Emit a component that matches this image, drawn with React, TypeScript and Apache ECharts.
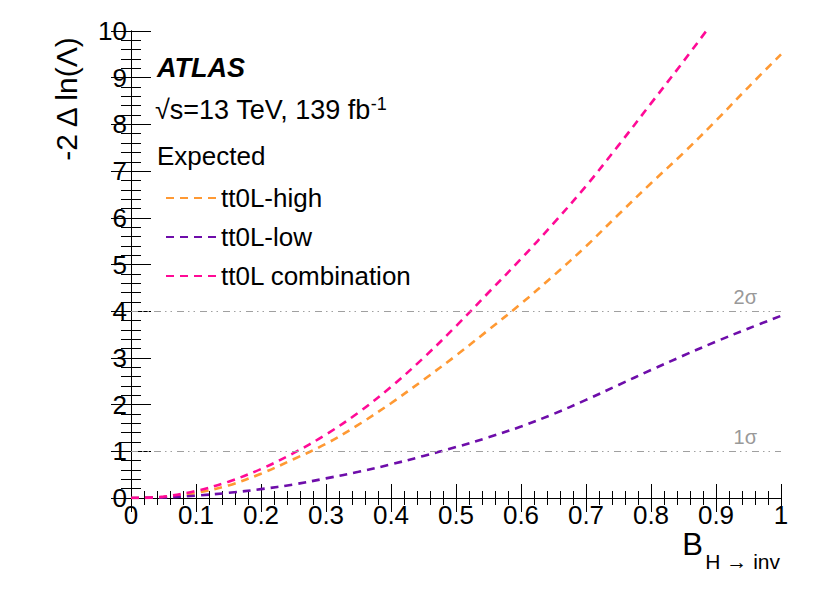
import React, { useEffect, useRef } from "react";
import * as echarts from "echarts";

// x values: B(H -> inv)
const bValues = [0, 0.05, 0.1, 0.15, 0.2, 0.25, 0.3, 0.35, 0.4, 0.45, 0.5, 0.55, 0.6, 0.65, 0.7, 0.75, 0.8, 0.85, 0.9, 0.95, 1.0];
// -2 Δ ln(Λ)
const highValues = [0, 0.02, 0.11, 0.27, 0.52, 0.83, 1.16, 1.57, 2.03, 2.53, 3.05, 3.6, 4.16, 4.76, 5.39, 6.07, 6.74, 7.39, 8.08, 8.8, 9.5];
const lowValues = [0, 0.01, 0.05, 0.11, 0.19, 0.29, 0.42, 0.56, 0.72, 0.9, 1.09, 1.3, 1.53, 1.8, 2.1, 2.42, 2.74, 3.05, 3.35, 3.63, 3.9];
const combBValues = [0, 0.05, 0.1, 0.15, 0.2, 0.25, 0.3, 0.35, 0.4, 0.45, 0.5, 0.55, 0.6, 0.65, 0.7, 0.75, 0.8, 0.85, 0.885];
const combValues = [0, 0.03, 0.15, 0.35, 0.62, 0.96, 1.36, 1.83, 2.38, 3.0, 3.68, 4.4, 5.12, 5.88, 6.68, 7.55, 8.45, 9.35, 10.0];

const seriesNames = ["tt0L-high", "tt0L-low", "tt0L combination"];
const seriesColors = ["#FF9933", "#6E0DAA", "#FF0A96"];
const sigmaLevels = [1, 4];
const sigmaLabels = ["1σ", "2σ"];

const FONT = "'Liberation Sans', Arial, Helvetica, sans-serif";

function pairs(xs: number[], ys: number[]) {
  return xs.map((x, i) => [x, ys[i]]);
}

export default function App() {
  const ref = useRef<HTMLDivElement>(null);

  useEffect(() => {
    document.body.style.margin = "0";
    const chart = echarts.init(ref.current as HTMLDivElement, null, { renderer: "svg" });

    const tickCommon = {
      axisLine: { show: true, lineStyle: { color: "#000", width: 1 } },
      splitLine: { show: false },
      minorSplitLine: { show: false },
    };

    const dataSets = [pairs(bValues, highValues), pairs(bValues, lowValues), pairs(combBValues, combValues)];

    const series: any[] = dataSets.map((d, i) => ({
      name: seriesNames[i],
      type: "line",
      data: d,
      symbol: "none",
      smooth: 0.35,
      clip: true,
      z: 3,
      lineStyle: { color: seriesColors[i], width: 2.6, type: [8, 6] },
      itemStyle: { color: seriesColors[i] },
    }));

    series.push({
      type: "line",
      data: [],
      symbol: "none",
      silent: true,
      markLine: {
        silent: true,
        symbol: "none",
        animation: false,
        lineStyle: { color: "#a0a0a0", width: 1, type: [7, 4, 1.5, 4, 1.5, 5] },
        label: {
          show: true,
          position: "insideEndTop",
          color: "#999",
          fontSize: 20,
          fontFamily: FONT,
          distance: [24, 4],
        },
        data: sigmaLevels.map((v, i) => ({ yAxis: v, label: { formatter: sigmaLabels[i] } })),
      },
    });

    const option: any = {
      animation: false,
      backgroundColor: "#fff",
      grid: { left: 131, right: 41, top: 31, bottom: 95 },
      legend: {
        orient: "vertical",
        left: 165,
        top: 185,
        padding: 0,
        itemWidth: 50,
        itemHeight: 26,
        itemGap: 13,
        selectedMode: false,
        data: seriesNames,
        itemStyle: { opacity: 0, borderWidth: 0 },
        textStyle: { fontSize: 26, color: "#000", fontFamily: FONT },
      },
      xAxis: [
        {
          type: "value",
          min: 0,
          max: 1,
          interval: 0.1,
          position: "bottom",
          ...tickCommon,
          axisTick: { show: true, inside: true, length: 14, lineStyle: { color: "#000" } },
          minorTick: { show: true, splitNumber: 5, length: 7, lineStyle: { color: "#000" } },
          axisLabel: { fontSize: 26, color: "#000", fontFamily: FONT, margin: 4 },
        },
        {
          type: "value",
          min: 0,
          max: 1,
          interval: 0.1,
          position: "top",
          ...tickCommon,
          axisTick: { show: true, inside: true, length: 14, lineStyle: { color: "#000" } },
          minorTick: { show: true, splitNumber: 5, length: 7, lineStyle: { color: "#000" } },
          axisLabel: { show: false },
        },
      ],
      yAxis: [
        {
          type: "value",
          min: 0,
          max: 10,
          interval: 1,
          position: "left",
          ...tickCommon,
          axisTick: { show: true, inside: true, length: 20, lineStyle: { color: "#000" } },
          minorTick: { show: true, splitNumber: 5, length: 10, lineStyle: { color: "#000" } },
          axisLabel: { fontSize: 26, color: "#000", fontFamily: FONT, margin: 4 },
        },
        {
          type: "value",
          min: 0,
          max: 10,
          interval: 1,
          position: "right",
          ...tickCommon,
          axisTick: { show: true, inside: true, length: 20, lineStyle: { color: "#000" } },
          minorTick: { show: true, splitNumber: 5, length: 10, lineStyle: { color: "#000" } },
          axisLabel: { show: false },
        },
      ],
      series,
      graphic: [
        {
          type: "text",
          left: 157,
          top: 54,
          style: { text: "ATLAS", font: `italic bold 27px ${FONT}`, fill: "#000" },
        },
        {
          type: "text",
          left: 155,
          top: 95,
          style: {
            text: "{a|√s=13 TeV, 139 fb}{b|-1}",
            fill: "#000",
            rich: {
              a: { fontSize: 27, fontFamily: FONT, color: "#000", lineHeight: 29 },
              b: { fontSize: 18, fontFamily: FONT, color: "#000", verticalAlign: "top", lineHeight: 18 },
            },
          },
        },
        {
          type: "text",
          left: 157,
          top: 143,
          style: { text: "Expected", font: `26px ${FONT}`, fill: "#000" },
        },
        {
          type: "text",
          x: 703,
          y: 544,
          style: { text: "B", font: `31px ${FONT}`, fill: "#000", align: "right", verticalAlign: "middle" },
        },
        {
          type: "text",
          x: 780,
          y: 561,
          style: { text: "H → inv", font: `21px ${FONT}`, fill: "#000", align: "right", verticalAlign: "middle" },
        },
        {
          type: "text",
          x: 66,
          y: 99,
          rotation: Math.PI / 2,
          style: { text: "-2 Δ ln(Λ)", font: `30px ${FONT}`, fill: "#000", align: "center", verticalAlign: "middle" },
        },
      ],
    };

    chart.setOption(option);
    return () => chart.dispose();
  }, []);

  return <div ref={ref} style={{ width: 822, height: 593 }} />;
}
